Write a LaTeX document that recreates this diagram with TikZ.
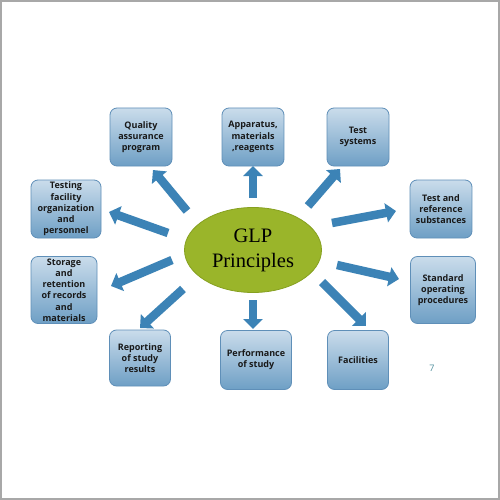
\documentclass[tikz,border=0pt]{standalone}
\usepackage{fontspec}
\setmainfont{Liberation Serif}
\setsansfont{Open Sans}
\usetikzlibrary{arrows.meta,shapes.geometric}
\definecolor{arrblue}{HTML}{3C83B6}
\definecolor{boxtop}{HTML}{CADCEB}
\definecolor{boxbot}{HTML}{6E9FC5}
\definecolor{boxedge}{HTML}{5F8FB8}
\definecolor{glpgreen}{HTML}{9AB52A}
\definecolor{glpedge}{HTML}{86A020}
\definecolor{framegray}{HTML}{A8A8A8}
\definecolor{numcol}{HTML}{4F8E9C}
\tikzset{
  boxnode/.style={draw=boxedge, line width=0.8pt, rounded corners=7pt,
    top color=boxtop, bottom color=boxbot, align=center,
    font=\sffamily\bfseries\fontsize{9}{11.2}\selectfont, text=black!90,
    inner sep=1pt},
  arr/.style={draw=arrblue, line width=8.5pt, -{Triangle[width=19pt,length=10pt]}},
}
\begin{document}
\begin{tikzpicture}[x=1pt,y=-1pt]
\useasboundingbox (0,0) rectangle (500,500);
\fill[white] (0,0) rectangle (500,500);
\draw[framegray, line width=1.6pt] (0.8,0.8) rectangle (499.2,499.2);

\node[ellipse, draw=glpedge, line width=0.8pt, fill=glpgreen, minimum width=137pt, minimum height=85pt,
  align=center, font=\fontsize{20.5}{25}\selectfont, inner sep=0pt] (glp) at (253,250) {GLP\\Principles};

\node[boxnode, minimum width=62pt, minimum height=58pt] (qa) at (141,137) {Quality\\assurance\\program};
\node[boxnode, minimum width=62pt, minimum height=58pt] (app) at (253,137) {Apparatus,\\materials\\,reagents};
\node[boxnode, minimum width=62pt, minimum height=58pt] (ts) at (358,137) {Test\\systems};
\node[boxnode, minimum width=70pt, minimum height=58pt] (tf) at (66,209) {Testing\\facility\\organization\\and\\personnel};
\node[boxnode, minimum width=62pt, minimum height=58pt] (tr) at (441,209) {Test and\\reference\\substances};
\node[boxnode, minimum width=66pt, minimum height=67pt] (st) at (64,290) {Storage\\and\\retention\\of records\\and\\materials};
\node[boxnode, minimum width=65pt, minimum height=67pt] (sop) at (443,290) {Standard\\operating\\procedures};
\node[boxnode, minimum width=61pt, minimum height=56pt] (rep) at (140,358) {Reporting\\of study\\results};
\node[boxnode, minimum width=71pt, minimum height=59pt] (perf) at (256,360) {Performance\\of study};
\node[boxnode, minimum width=61pt, minimum height=59pt] (fac) at (358,360) {Facilities};

\node[font=\sffamily\fontsize{9}{10}\selectfont, text=numcol] (pg) at (432,368) {7};

% arrow tails and tips
\coordinate (a1) at (187,211); \coordinate (b1) at (153,170);
\coordinate (a2) at (253,198); \coordinate (b2) at (253,166);
\coordinate (a3) at (308,206); \coordinate (b3) at (340,169);
\coordinate (a4) at (168,233); \coordinate (b4) at (109,212);
\coordinate (a5) at (332,223); \coordinate (b5) at (396,211);
\coordinate (a6) at (172,260); \coordinate (b6) at (111,286);
\coordinate (a7) at (337,265); \coordinate (b7) at (399,279);
\coordinate (a8) at (183,289); \coordinate (b8) at (140,328);
\coordinate (a9) at (253,300); \coordinate (b9) at (253,329);
\coordinate (a10) at (322,282); \coordinate (b10) at (366,326);

\foreach \i in {1,...,10} {\draw[arr] (a\i) -- (b\i);}
\end{tikzpicture}
\end{document}
